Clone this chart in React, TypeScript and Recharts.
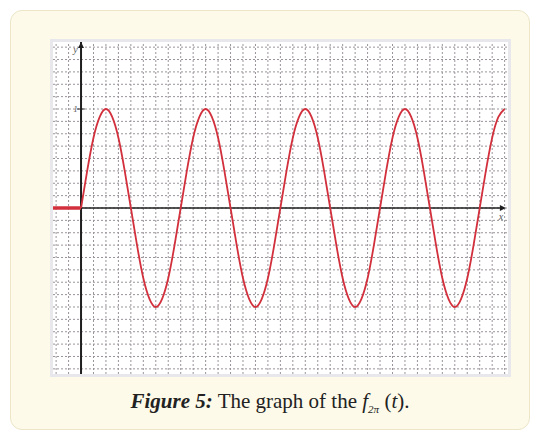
import React from "react";
import { LineChart, Line, XAxis, YAxis, ReferenceLine, ReferenceDot } from "recharts";

// t in grid units (one period = 8 units), sampled every half unit
const tValues: number[] = [
  0, 0.5, 1, 1.5, 2, 2.5, 3, 3.5, 4, 4.5, 5, 5.5, 6, 6.5, 7, 7.5,
  8, 8.5, 9, 9.5, 10, 10.5, 11, 11.5, 12, 12.5, 13, 13.5, 14, 14.5, 15, 15.5,
  16, 16.5, 17, 17.5, 18, 18.5, 19, 19.5, 20, 20.5, 21, 21.5, 22, 22.5, 23, 23.5,
  24, 24.5, 25, 25.5, 26, 26.5, 27, 27.5, 28, 28.5, 29, 29.5, 30, 30.5, 31, 31.5,
  32, 32.5, 33, 33.5, 34,
];
const fValues: number[] = [
  0, 0.38, 0.71, 0.92, 1, 0.92, 0.71, 0.38, 0, -0.38, -0.71, -0.92, -1, -0.92, -0.71, -0.38,
  0, 0.38, 0.71, 0.92, 1, 0.92, 0.71, 0.38, 0, -0.38, -0.71, -0.92, -1, -0.92, -0.71, -0.38,
  0, 0.38, 0.71, 0.92, 1, 0.92, 0.71, 0.38, 0, -0.38, -0.71, -0.92, -1, -0.92, -0.71, -0.38,
  0, 0.38, 0.71, 0.92, 1, 0.92, 0.71, 0.38, 0, -0.38, -0.71, -0.92, -1, -0.92, -0.71, -0.38,
  0, 0.38, 0.71, 0.92, 1,
];
// zero part for negative t
const flatT: number[] = [-2.25, 0];
const flatF: number[] = [0, 0];

const X_MIN = -2.25;
const X_MAX = 34.27;
const Y_LIM = 1.677;

// grid every unit on t, every 1/8 on f
const xGrid: number[] = Array.from({ length: 37 }, (_, i) => i - 2);
const yGrid: number[] = Array.from({ length: 27 }, (_, i) => (i - 13) / 8);

const curveData = tValues.map((t, i) => ({ t, f: fValues[i] }));
const flatData = flatT.map((t, i) => ({ t, f: flatF[i] }));

const RED = "#d2303c";
const AXIS = "#1e1e1e";
const GRID = "#9a949a";

const Label = (text: string, dx: number, dy: number, size = 10) => (p: any) => (
  <text
    x={p.cx + dx}
    y={p.cy + dy}
    fontFamily="'Liberation Serif', serif"
    fontStyle="italic"
    fontSize={size}
    fill="#555"
    textAnchor="middle"
  >
    {text}
  </text>
);

const ArrowUp = (p: any) => (
  <path d={`M${p.cx - 3},${p.cy + 6} L${p.cx},${p.cy} L${p.cx + 3},${p.cy + 6} Z`} fill={AXIS} />
);
const ArrowRight = (p: any) => (
  <path d={`M${p.cx - 6},${p.cy - 3} L${p.cx},${p.cy} L${p.cx - 6},${p.cy + 3} Z`} fill={AXIS} />
);

export default function App() {
  return (
    <div style={{ position: "absolute", left: 0, top: 0, width: 540, height: 440, background: "#ffffff" }}>
      <div
        style={{
          position: "absolute",
          left: 10,
          top: 10,
          width: 518,
          height: 418,
          background: "#fdfae9",
          border: "1px solid #ece5c8",
          borderRadius: 12,
        }}
      />
      <div
        style={{
          position: "absolute",
          left: 50,
          top: 39,
          width: 455,
          height: 332,
          border: "3px solid #e8e8ec",
          background: "#ffffff",
        }}
      >
        <LineChart width={455} height={332} margin={{ top: 0, right: 0, bottom: 0, left: 0 }}>
          <XAxis
            type="number"
            dataKey="t"
            domain={[X_MIN, X_MAX]}
            allowDataOverflow
            axisLine={false}
            tickLine={false}
            tick={false}
            height={0}
          />
          <YAxis
            type="number"
            domain={[-Y_LIM, Y_LIM]}
            allowDataOverflow
            axisLine={false}
            tickLine={false}
            tick={false}
            width={0}
          />
          {xGrid.map((v) => (
            <ReferenceLine key={`gx${v}`} x={v} stroke={GRID} strokeDasharray="2 2" strokeWidth={1} />
          ))}
          {yGrid.map((v) => (
            <ReferenceLine key={`gy${v}`} y={v} stroke={GRID} strokeDasharray="2 2" strokeWidth={1} />
          ))}
          <ReferenceLine x={0} stroke={AXIS} strokeWidth={2} />
          <ReferenceLine segment={[{ x: 0, y: 0 }, { x: 33.9, y: 0 }]} stroke={AXIS} strokeWidth={1.5} />
          <ReferenceLine segment={[{ x: -0.3, y: 1 }, { x: 0.3, y: 1 }]} stroke={AXIS} strokeWidth={1} />
          <ReferenceDot x={0} y={Y_LIM} r={0} shape={ArrowUp} />
          <ReferenceDot x={34.1} y={0} r={0} shape={ArrowRight} />
          <ReferenceDot x={-0.45} y={1.6} r={0} shape={Label("y", 0, 3)} />
          <ReferenceDot x={-0.45} y={1} r={0} shape={Label("1", 0, 3, 9)} />
          <ReferenceDot x={33.7} y={0} r={0} shape={Label("x", 0, 12)} />
          <Line
            data={flatData}
            dataKey="f"
            type="linear"
            stroke={RED}
            strokeWidth={3.5}
            dot={false}
            isAnimationActive={false}
          />
          <Line
            data={curveData}
            dataKey="f"
            type="natural"
            stroke={RED}
            strokeWidth={1.8}
            dot={false}
            isAnimationActive={false}
          />
        </LineChart>
      </div>
      <div
        style={{
          position: "absolute",
          left: 10,
          top: 389,
          width: 520,
          textAlign: "center",
          fontFamily: "'Liberation Serif', 'DejaVu Serif', serif",
          fontSize: 21,
          color: "#222",
          whiteSpace: "nowrap",
        }}
      >
        <span style={{ fontWeight: "bold", fontStyle: "italic" }}>Figure 5:</span> The graph of the{" "}
        <span style={{ fontStyle: "italic" }}>f</span>
        <sub style={{ fontSize: 11, fontStyle: "italic" }}>2π</sub> (<span style={{ fontStyle: "italic" }}>t</span>).
      </div>
    </div>
  );
}
